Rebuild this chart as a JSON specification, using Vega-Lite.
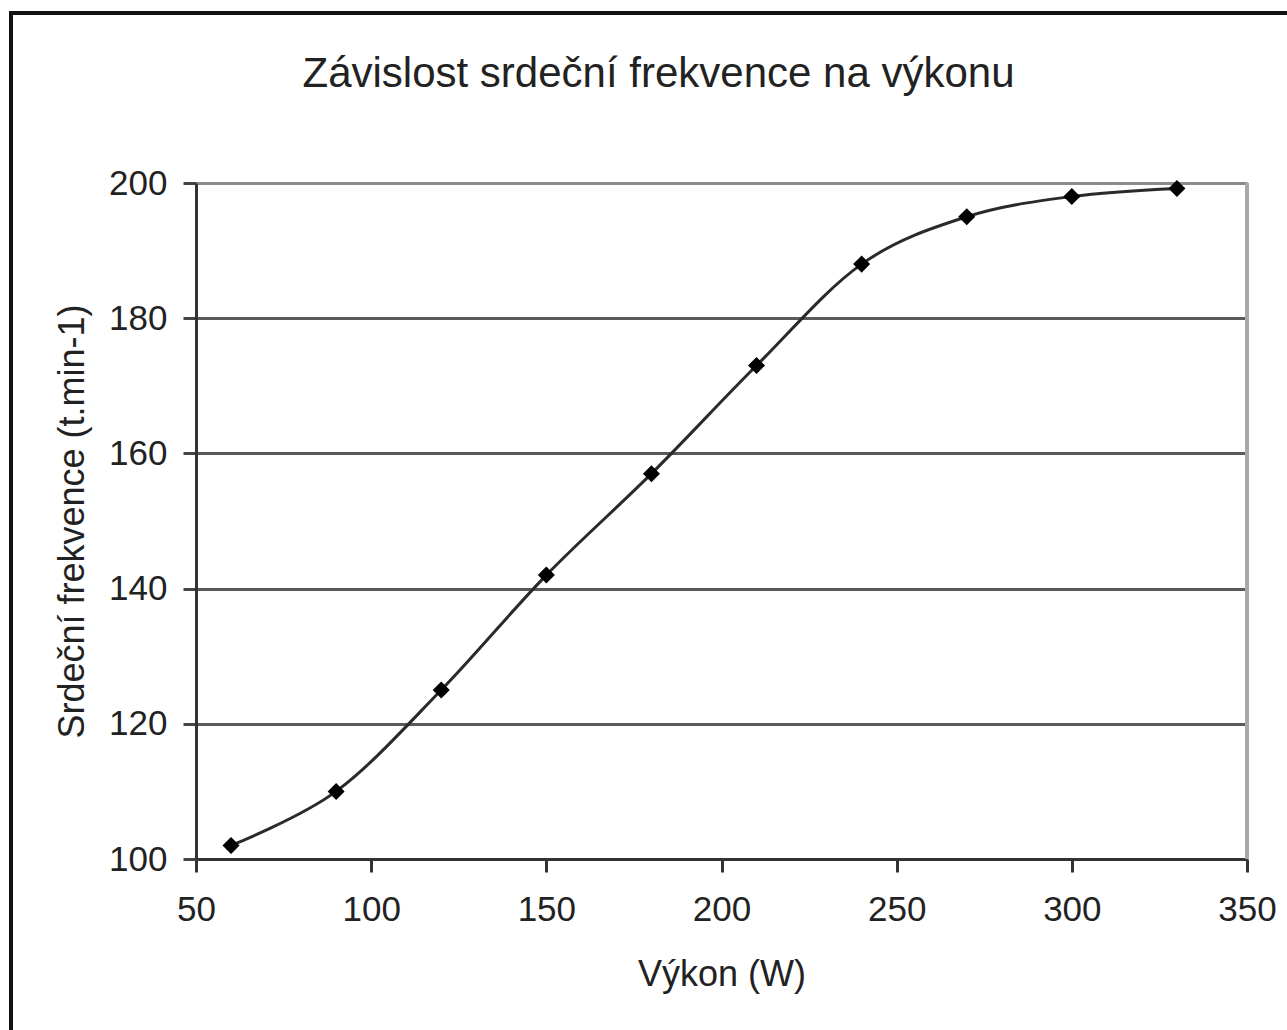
{
  "$schema": "https://vega.github.io/schema/vega-lite/v6.json",
  "width": 1281,
  "height": 1021,
  "autosize": {"type": "none"},
  "padding": {"left": 11, "top": 13, "right": -5, "bottom": -4},
  "background": "white",
  "config": {
    "view": {"stroke": "#111", "strokeWidth": 4},
    "font": "Liberation Sans"
  },
  "title": {
    "text": "Závislost srdeční frekvence na výkonu",
    "fontSize": 42,
    "fontWeight": "normal",
    "color": "#222",
    "anchor": "middle",
    "frame": "group",
    "baseline": "alphabetic",
    "offset": -74,
    "dy": 42,
    "dx": 7
  },
  "data": {
    "values": [
      {"vykon": 60, "frekvence": 102},
      {"vykon": 90, "frekvence": 110},
      {"vykon": 120, "frekvence": 125},
      {"vykon": 150, "frekvence": 142},
      {"vykon": 180, "frekvence": 157},
      {"vykon": 210, "frekvence": 173},
      {"vykon": 240, "frekvence": 188},
      {"vykon": 270, "frekvence": 195},
      {"vykon": 300, "frekvence": 198},
      {"vykon": 330, "frekvence": 199.2}
    ]
  },
  "encoding": {
    "x": {
      "field": "vykon",
      "type": "quantitative",
      "scale": {"domain": [50, 350], "range": [185, 1236], "nice": false, "zero": false},
      "axis": {
        "title": "Výkon (W)",
        "values": [50, 100, 150, 200, 250, 300, 350],
        "offset": -175,
        "grid": false,
        "domainColor": "#333",
        "domainWidth": 3,
        "tickColor": "#333",
        "tickWidth": 3,
        "tickSize": 13,
        "labelPadding": 20,
        "labelFontSize": 35,
        "labelColor": "#222",
        "labelFlush": false,
        "titleFontSize": 36,
        "titleFontWeight": "normal",
        "titleColor": "#222",
        "titlePadding": 30
      }
    },
    "y": {
      "field": "frekvence",
      "type": "quantitative",
      "scale": {"domain": [100, 200], "range": [846, 170], "nice": false, "zero": false},
      "axis": {
        "title": "Srdeční frekvence (t.min-1)",
        "values": [100, 120, 140, 160, 180, 200],
        "offset": -185,
        "grid": true,
        "gridColor": {"condition": {"test": "datum.value === 200", "value": "#8c8c8c"}, "value": "#5a5a5a"},
        "gridWidth": 3,
        "domainColor": "#333",
        "domainWidth": 3,
        "tickColor": "#444",
        "tickWidth": 3,
        "tickSize": 13,
        "labelPadding": 16,
        "labelFontSize": 35,
        "labelColor": "#222",
        "labelFlush": false,
        "titleFontSize": 36,
        "titleFontWeight": "normal",
        "titleColor": "#222",
        "titlePadding": 17
      }
    }
  },
  "layer": [
    {
      "mark": {"type": "rule", "color": "#a8a8a8", "strokeWidth": 3},
      "encoding": {
        "x": {"datum": 350, "type": "quantitative"},
        "y": {"datum": 100, "type": "quantitative"},
        "y2": {"datum": 200}
      }
    },
    {
      "mark": {"type": "line", "interpolate": "cardinal", "color": "#2a2a2a", "strokeWidth": 3}
    },
    {
      "mark": {"type": "point", "shape": "diamond", "filled": true, "color": "#000", "opacity": 1, "size": 290}
    }
  ]
}
